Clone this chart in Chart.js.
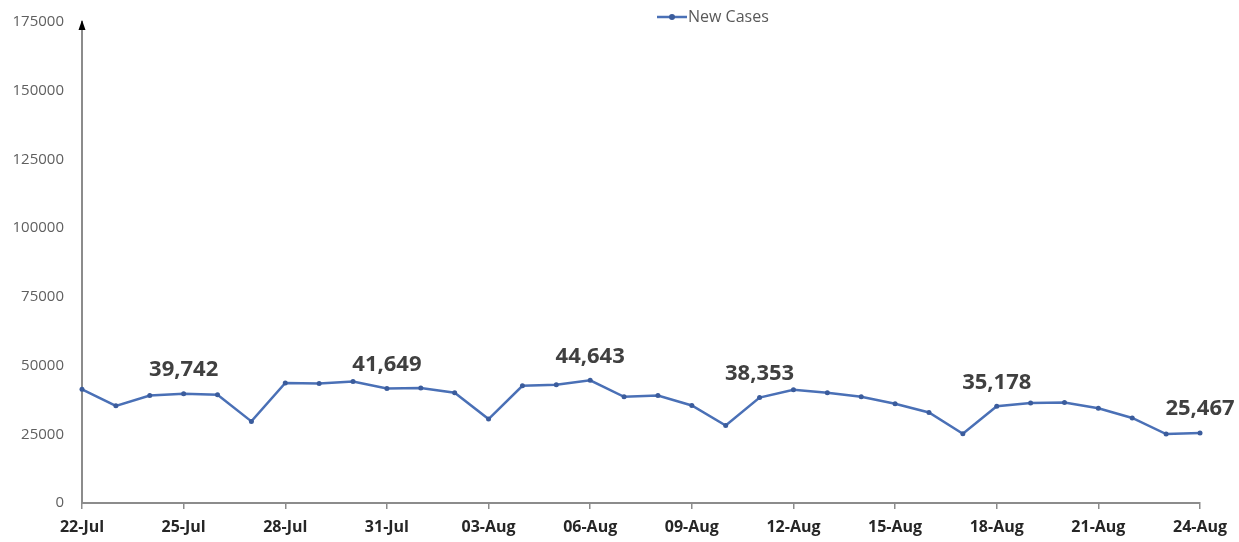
<!DOCTYPE html>
<html>
<head>
<meta charset="utf-8">
<script src="https://cdn.jsdelivr.net/npm/chart.js@4.4.1/dist/chart.umd.min.js"></script>
<style>
  html, body { margin: 0; padding: 0; background: #fff; }
  #wrap { width: 1239px; height: 542px; }
</style>
</head>
<body>
<div id="wrap"><canvas id="myChart" width="1239" height="542"></canvas></div>
<script>
// data
var days = ['22-Jul','23-Jul','24-Jul','25-Jul','26-Jul','27-Jul','28-Jul','29-Jul','30-Jul','31-Jul',
  '01-Aug','02-Aug','03-Aug','04-Aug','05-Aug','06-Aug','07-Aug','08-Aug','09-Aug','10-Aug',
  '11-Aug','12-Aug','13-Aug','14-Aug','15-Aug','16-Aug','17-Aug','18-Aug','19-Aug','20-Aug',
  '21-Aug','22-Aug','23-Aug','24-Aug'];
var newCases = [41383, 35342, 39097, 39742, 39361, 29689, 43654, 43509, 44230, 41649,
  41831, 40134, 30549, 42625, 42982, 44643, 38628, 39070, 35499, 28204,
  38353, 41195, 40120, 38667, 36083, 32937, 25166, 35178, 36401, 36571,
  34457, 30948, 25072, 25467];
var labeledDays = ['25-Jul', '31-Jul', '06-Aug', '11-Aug', '18-Aug', '24-Aug'];
var yTicks = [0, 25000, 50000, 75000, 100000, 125000, 150000, 175000];

var lineColor = '#4a70b6';
var markColor = '#3b5c9c';

/* value labels, axis arrow and legend */
var extras = {
  id: 'extras',
  afterDatasetsDraw: function(chart) {
    var ctx = chart.ctx;
    var meta = chart.getDatasetMeta(0);
    ctx.save();
    ctx.font = 'bold 22px "Open Sans", sans-serif';
    ctx.fillStyle = '#404040';
    ctx.textAlign = 'center';
    ctx.textBaseline = 'middle';
    labeledDays.forEach(function(d) {
      var i = days.indexOf(d);
      var pt = meta.data[i];
      ctx.fillText(newCases[i].toLocaleString('en-US'), pt.x, pt.y - 24);
    });

    // arrow on top of the y axis
    var x0 = chart.chartArea.left;
    var top = chart.chartArea.top;
    ctx.fillStyle = '#000';
    ctx.beginPath();
    ctx.moveTo(x0, top - 2);
    ctx.lineTo(x0 - 3.5, top + 8);
    ctx.lineTo(x0 + 3.5, top + 8);
    ctx.closePath();
    ctx.fill();

    // legend
    var lx = 657, ly = 17;
    ctx.strokeStyle = lineColor;
    ctx.lineWidth = 2.5;
    ctx.beginPath();
    ctx.moveTo(lx, ly);
    ctx.lineTo(lx + 30, ly);
    ctx.stroke();
    ctx.fillStyle = markColor;
    ctx.beginPath();
    ctx.arc(lx + 15, ly, 3, 0, Math.PI * 2);
    ctx.fill();
    ctx.font = '16px "Open Sans", sans-serif';
    ctx.fillStyle = '#595959';
    ctx.textAlign = 'left';
    ctx.fillText('New Cases', lx + 31, ly);
    ctx.restore();
  }
};

var config = {
  type: 'line',
  data: {
    labels: days,
    datasets: [{
      label: 'New Cases',
      data: newCases,
      borderColor: lineColor,
      backgroundColor: markColor,
      borderWidth: 2.5,
      pointRadius: 2.5,
      pointBackgroundColor: markColor,
      pointBorderWidth: 0,
      tension: 0
    }]
  },
  options: {
    responsive: false,
    animation: false,
    layout: { padding: { top: 22, right: 39, left: 0, bottom: 0 } },
    plugins: {
      legend: { display: false },
      tooltip: { enabled: false }
    },
    scales: {
      x: {
        offset: false,
        afterFit: function(scale) { scale.height = 39; },
        border: { color: '#8c8c8c', width: 2 },
        grid: {
          drawOnChartArea: false,
          drawTicks: true,
          tickLength: 6,
          lineWidth: 1.5,
          color: function(c) { return (c.index % 3 === 0) ? '#8c8c8c' : 'rgba(0,0,0,0)'; }
        },
        ticks: {
          autoSkip: false,
          maxRotation: 0,
          padding: 9,
          color: '#262626',
          font: { family: '"Open Sans", sans-serif', size: 16, weight: 'bold' },
          callback: function(v, i) { return (i % 3 === 0) ? days[i] : ''; }
        }
      },
      y: {
        min: 0,
        max: 175000,
        afterFit: function(scale) { scale.width = 82; },
        afterBuildTicks: function(scale) {
          scale.ticks = yTicks.map(function(v) { return { value: v }; });
        },
        border: { color: '#8c8c8c', width: 2 },
        grid: { display: false },
        ticks: {
          padding: 10,
          color: '#5f5f5f',
          font: { family: '"Open Sans", sans-serif', size: 15 },
          callback: function(v) { return String(v); }
        }
      }
    }
  },
  plugins: [extras]
};

window.onload = function() {
  var ctx = document.getElementById('myChart').getContext('2d');
  window.lineChart = new Chart(ctx, config);
};
</script>
</body>
</html>
